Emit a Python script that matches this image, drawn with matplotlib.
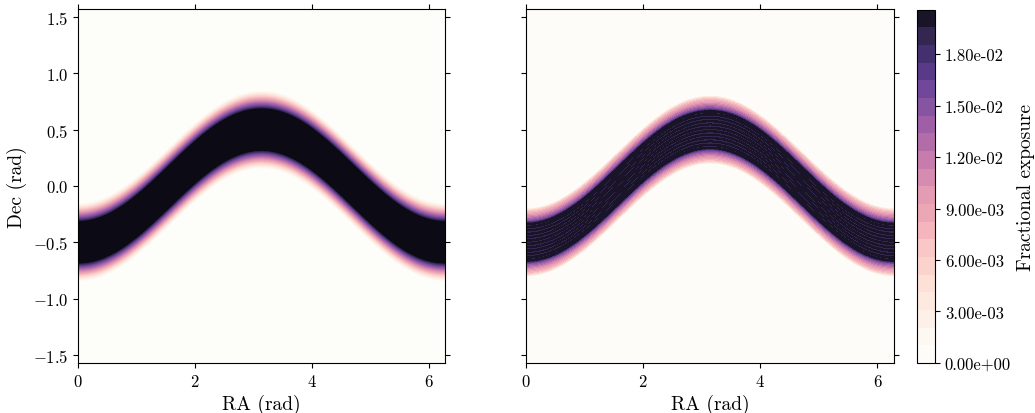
import numpy as np
import matplotlib
matplotlib.use("Agg")
import matplotlib.pyplot as plt
from matplotlib.colors import LinearSegmentedColormap
from matplotlib.ticker import FormatStrFormatter

plt.rcParams['font.family'] = 'serif'
plt.rcParams['font.serif'] = ['cmr10', 'DejaVu Serif']
plt.rcParams['mathtext.fontset'] = 'cm'
plt.rcParams['axes.formatter.use_mathtext'] = True

# band centre follows dec = -amp*cos(ra)
band_amplitude = 0.5

# exposure profile across the band (offset in dec from centre, rad)
left_offsets = [0.00, 0.18, 0.21, 0.24, 0.27, 0.30, 0.33, 0.35]
left_values = [0.0206, 0.0206, 0.0160, 0.0125, 0.0090, 0.0055, 0.0020, 0.0]

right_offsets = [0.00, 0.015, 0.03, 0.045, 0.06, 0.075, 0.09, 0.105, 0.12, 0.135,
                 0.15, 0.165, 0.175, 0.19, 0.21, 0.23, 0.25, 0.27, 0.285, 0.295, 0.30]
right_values = [0.0191, 0.0199, 0.0190, 0.0198, 0.0191, 0.0199, 0.0190, 0.0198,
                0.0191, 0.0199, 0.0192, 0.0204, 0.0172, 0.0147, 0.0126, 0.0106,
                0.0088, 0.0070, 0.0050, 0.0025, 0.0]

vmax = 0.0206
n_levels = 20
cbar_ticks = [0.0, 0.003, 0.006, 0.009, 0.012, 0.015, 0.018]

band_colors = ['#fdfdfa', '#fdfbf6', '#fdf3ec', '#fdece2', '#fde3d8', '#fcd6cf',
               '#f9cac8', '#f5b9bd', '#eca8b6', '#e49bb3', '#d68bb0', '#c57cad',
               '#b06ca8', '#9a5ca6', '#8252a0', '#6a4398', '#533783', '#3f2d66',
               '#2b2244', '#0a0911']
cmap = LinearSegmentedColormap.from_list('expo', band_colors)

ra = np.linspace(0, 2*np.pi, 500)
dec = np.linspace(-np.pi/2, np.pi/2, 800)
RA, DEC = np.meshgrid(ra, dec)
offset = np.abs(DEC + band_amplitude*np.cos(RA))

left_map = np.interp(offset, left_offsets, left_values, right=0.0)
right_map = np.interp(offset, right_offsets, right_values, right=0.0)

fig = plt.figure(figsize=(10.35, 4.14), dpi=100)
ax1 = fig.add_axes([0.0754, 0.121, 0.3546, 0.855])
ax2 = fig.add_axes([0.5082, 0.121, 0.3556, 0.855])
cax = fig.add_axes([0.886, 0.121, 0.0175, 0.853])

ax1.contourf(RA, DEC, np.clip(left_map, 0, vmax), levels=np.linspace(0, vmax, 101), cmap=cmap)
cs = ax2.contourf(RA, DEC, right_map, levels=np.linspace(0, vmax, n_levels+1), cmap=cmap)

for ax in (ax1, ax2):
    ax.set_xlim(0, 2*np.pi)
    ax.set_ylim(-np.pi/2, np.pi/2)
    ax.set_xticks([0, 2, 4, 6])
    ax.set_yticks([-1.5, -1.0, -0.5, 0.0, 0.5, 1.0, 1.5])
    ax.tick_params(direction='out', top=True, right=True, labelsize=12)
    ax.set_xlabel('RA (rad)', fontsize=14)
ax1.set_ylabel('Dec (rad)', fontsize=14)
ax2.tick_params(labelleft=False)

cb = fig.colorbar(cs, cax=cax, ticks=cbar_ticks)
cb.ax.yaxis.set_major_formatter(FormatStrFormatter('%.2e'))
cb.ax.tick_params(labelsize=12)
cb.set_label('Fractional exposure', fontsize=14)

fig.savefig('out.png', dpi=100)
